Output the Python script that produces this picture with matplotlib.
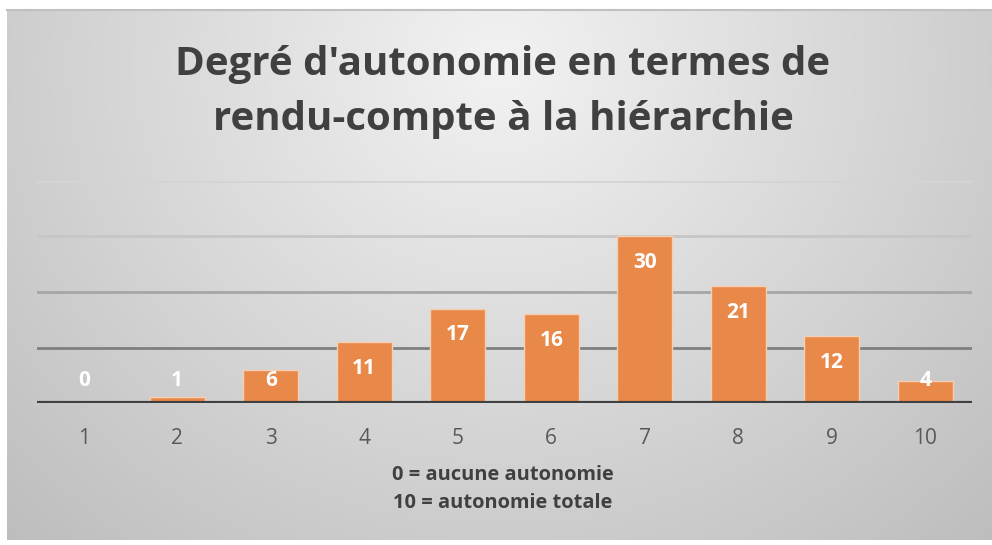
import numpy as np
import matplotlib
matplotlib.use("Agg")
import matplotlib.pyplot as plt

categories = ["1", "2", "3", "4", "5", "6", "7", "8", "9", "10"]
values = [0, 1, 6, 11, 17, 16, 30, 21, 12, 4]
grid_levels = [10, 20, 30, 40]
grid_colors = ["#7f7f7f", "#a6a6a6", "#c6c6c6", "#d4d4d4"]

title = "Degré d'autonomie en termes de\nrendu-compte à la hiérarchie"
xlabel = "0 = aucune autonomie\n10 = autonomie totale"

plt.rcParams['font.family'] = ['Open Sans', 'DejaVu Sans']

W, H = 992, 545
fig = plt.figure(figsize=(W / 100, H / 100), dpi=100)
fig.patch.set_facecolor("white")

# gradient background of the chart area
bg = fig.add_axes([7 / W, 5 / H, 985 / W, 530 / H], zorder=0)
u, v = np.meshgrid(np.linspace(0, 1, 400), np.linspace(0, 1, 220))
d = np.sqrt(((u - 0.5) / 0.7) ** 2 + ((v - 0.1) / 1.2) ** 2)
shade = np.clip(0.95 - 0.2 * d, 0, 1)
bg.imshow(np.dstack([shade, shade, shade]), aspect="auto", extent=[0, 1, 0, 1])
bg.axis("off")
bg.plot([0, 1], [1, 1], color="#c0c0c0", lw=1.5, transform=bg.transAxes, clip_on=False)

ax = fig.add_axes([37 / W, 1 - 403 / H, 935 / W, (403 - 181) / H], zorder=1)
ax.patch.set_alpha(0)
x = np.arange(len(categories))
ax.set_xlim(-0.5, len(categories) - 0.5)
ax.set_ylim(0, 40)

for lvl, c in zip(grid_levels, grid_colors):
    ax.axhline(lvl, color=c, lw=2, zorder=1)

ax.bar(x, values, width=0.59, color="#e8894a", edgecolor="#f6cfb2", linewidth=1, zorder=2)
ax.axhline(0, color="#404040", lw=3, zorder=3)

for xi, val in zip(x, values):
    ypos = max(val - 4.7, 4.1)
    ax.text(xi, ypos, str(val), ha="center", va="center", color="white",
            fontsize=15, fontweight="bold", zorder=4)

ax.set_xticks(x)
ax.set_xticklabels(categories, fontsize=15, color="#595959")
ax.tick_params(axis="x", length=0, pad=18)
ax.set_yticks([])
for s in ax.spines.values():
    s.set_visible(False)

fig.text(503 / W, 1 - 92 / H, title, ha="center", va="center", fontsize=29,
         fontweight="bold", color="#404040", linespacing=1.55)
fig.text(503 / W, 1 - 489 / H, xlabel, ha="center", va="center", fontsize=14.4,
         fontweight="bold", color="#404040", linespacing=1.55)

fig.savefig("out.png", dpi=100)
